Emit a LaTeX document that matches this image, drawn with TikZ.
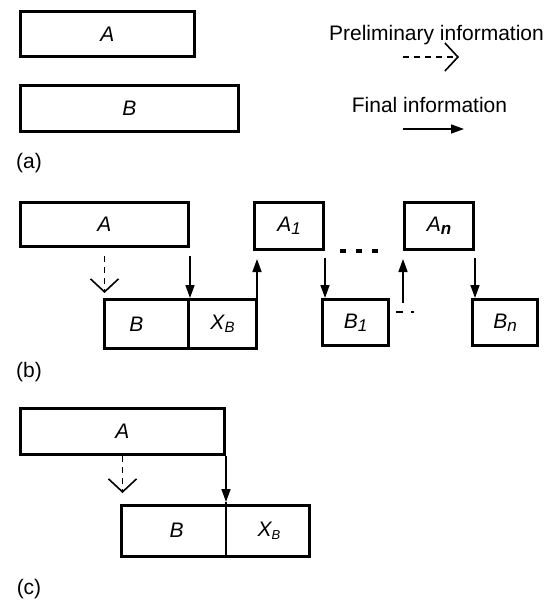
\documentclass[tikz,border=0pt]{standalone}
\usepackage{fontspec}
\setmainfont{Liberation Sans}
\usetikzlibrary{arrows.meta,calc}
\newcommand\mysub[2][15]{\raisebox{-0.3ex}{\fontsize{#1}{#1}\selectfont #2}}
\tikzset{
  box/.style={draw, line width=3pt, rectangle, inner sep=0pt, anchor=north west, font=\fontsize{21}{25}\selectfont\itshape},
  finalarrow/.style={line width=1.6pt, -{Triangle[length=13pt,width=9pt]}},
  prelimarrow/.style={line width=1.6pt, dash pattern=on 6pt off 5pt, -{Straight Barb[length=13pt,width=28pt,line width=1.6pt]}},
  txt/.style={font=\fontsize{21}{25}\selectfont, inner sep=0pt},
}
\begin{document}
\begin{tikzpicture}[x=1pt,y=-1pt]
\useasboundingbox (0,0) rectangle (547,601);
% (a)
\node[box, minimum width=174pt, minimum height=45pt] (Aa) at (19,10) {A};
\node[box, minimum width=218pt, minimum height=46pt] (Ba) at (19,84) {B};
\node[txt, anchor=base] (prel) at (436.5,41) {Preliminary information};
\node[txt, anchor=base] (fin) at (429.5,113) {Final information};
\coordinate (p1) at (403,57);
\coordinate (p2) at (459,57);
\coordinate (f1) at (403,129);
\coordinate (f2) at (464,129);
\draw[prelimarrow] (p1) -- (p2);
\draw[finalarrow] (f1) -- (f2);
\node[txt] (la) at (29,163) {(a)};
% (b)
\node[box, minimum width=168pt, minimum height=44pt] (Ab) at (19,201) {A};
\node[box, minimum width=84pt, minimum height=49pt] (Bb) at (103,298) {B\kern20pt};
\node[box, minimum width=68pt, minimum height=49pt] (XBb) at (187,298) {X\mysub{B}};
\node[box, minimum width=69pt, minimum height=47pt] (A1) at (253,201) {A\mysub[17]{1}};
\node[box, minimum width=66pt, minimum height=46pt] (B1) at (321,298) {B\mysub[17]{1}};
\node[box, minimum width=69pt, minimum height=47pt] (An) at (403,201) {A\mysub[17]{\bfseries n}};
\node[box, minimum width=65pt, minimum height=46pt] (Bn) at (471,298) {B\mysub[17]{n}};
\draw[prelimarrow, shorten <=8pt, shorten >=5pt] (Ab.south) -- (Ab.south |- Bb.north);
\draw[finalarrow, shorten <=8pt] (Ab.south east) -- (Bb.north east);
\draw[finalarrow, shorten >=8pt] ($(XBb.north east)+(-1,0)$) -- ($(XBb.north east |- A1.south)+(-1,0)$);
\draw[finalarrow, shorten <=7pt] (A1.south east) -- (A1.south east |- B1.north);
\coordinate (d1) at ($(B1.north east)+(6,14)$);
\coordinate (d2) at ($(B1.north east)+(24,14)$);
\draw[line width=1.6pt, dash pattern=on 7pt off 8pt] (d1) -- (d2);
\coordinate (up) at ($(An.south west)+(0,52)$);
\draw[finalarrow, shorten >=8pt] (up) -- (An.south west);
\draw[finalarrow, shorten <=7pt] (An.south east) -- (An.south east |- Bn.north);
\coordinate (dots1) at (340,251);
\coordinate (dots2) at (380,251);
\draw[line width=4.5pt, dash pattern=on 6pt off 10pt] (dots1) -- (dots2);
\node[txt] (lb) at (29,372) {(b)};
% (c)
\node[box, minimum width=204pt, minimum height=46pt] (Ac) at (19,407) {A};
\node[box, draw=none, minimum width=102pt, minimum height=48pt] (Bc) at (121,505) {\kern6pt B};
\node[box, draw=none, minimum width=83pt, minimum height=48pt] (XBc) at (223,505) {\kern6pt X\mysub[13]{B}\raisebox{3pt}{}};
\draw[line width=3pt] (Bc.north west) rectangle (XBc.south east);
\draw[line width=1.6pt] ($(Bc.north east)+(0,-3)$) -- (Bc.south east);
\draw[prelimarrow, shorten >=12pt] (Ac.south) -- (Ac.south |- Bc.north);
\draw[finalarrow, shorten >=3pt] (Ac.south east) -- (Bc.north east);
\node[txt] (lc) at (29,589) {(c)};
\end{tikzpicture}
\end{document}
